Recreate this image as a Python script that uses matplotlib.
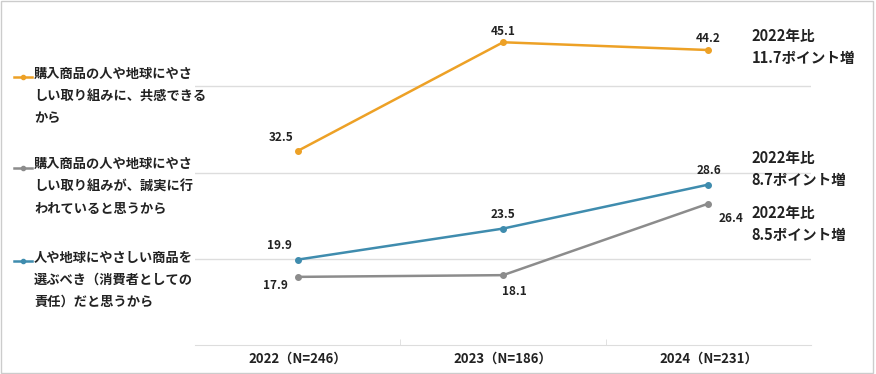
import matplotlib.pyplot as plt
from matplotlib.lines import Line2D
from matplotlib.patches import Rectangle

plt.rcParams['font.family'] = ['Noto Sans CJK JP', 'DejaVu Sans']

years = ['2022（N=246）', '2023（N=186）', '2024（N=231）']
empathy = [32.5, 45.1, 44.2]
sincere = [17.9, 18.1, 26.4]
should = [19.9, 23.5, 28.6]

labels = ['購入商品の人や地球にやさ\nしい取り組みに、共感できる\nから',
          '購入商品の人や地球にやさ\nしい取り組みが、誠実に行\nわれていると思うから',
          '人や地球にやさしい商品を\n選ぶべき（消費者としての\n責任）だと思うから']
notes = ['2022年比\n11.7ポイント増', '2022年比\n8.7ポイント増', '2022年比\n8.5ポイント増']

c_orange = '#EDA126'
c_gray = '#8C8C8C'
c_blue = '#3F8CAE'

fig = plt.figure(figsize=(8.76, 3.74), dpi=100)
ax = fig.add_axes([0.2226, 0.0775, 0.7034, 0.9225])

x = range(len(years))
series = [(empathy, c_orange), (sincere, c_gray), (should, c_blue)]
for vals, col in series:
    ax.plot(x, vals, color=col, lw=1.8, marker='o', ms=4)

# data labels: (dx points, dy points)
offs = [[(-12, 10), (0, 8), (0, 8)],
        [(-16, -6), (8, -12), (16, -11)],
        [(-13, 10), (0, 10), (0, 10)]]
for (vals, col), off in zip(series, offs):
    for i, v in enumerate(vals):
        ax.annotate(f'{v:.1f}', (i, v), xytext=off[i], textcoords='offset points',
                    ha='center', va='center', fontsize=8.5, fontweight='bold', color='#222222')

ax.set_xlim(-0.5, 2.5)
ax.set_ylim(10, 50)
ax.set_yticks([20, 30, 40])
ax.yaxis.grid(True, color='#DDDDDD', lw=1)
ax.tick_params(axis='y', left=False, labelleft=False)
ax.set_xticks(list(x))
ax.set_xticklabels(years, fontsize=9.5, fontweight='bold', color='#222222')
ax.set_xticks([0.5, 1.5], minor=True)
ax.tick_params(axis='x', which='major', length=0, pad=5)
ax.tick_params(axis='x', which='minor', length=4, color='#DDDDDD', direction='in')
for s in ['top', 'right', 'left']:
    ax.spines[s].set_visible(False)
ax.spines['bottom'].set_color('#DDDDDD')

# legend on the left
leg_y = [0.794, 0.551, 0.302]
for (vals, col), lab, yy in zip(series, labels, leg_y):
    fig.add_artist(Line2D([0.016, 0.0265, 0.037], [yy, yy, yy], color=col, lw=1.8,
                          marker='o', ms=3, markevery=[1], transform=fig.transFigure))
    fig.text(0.039, yy + 0.028, lab, fontsize=9.5, fontweight='bold', color='#222222',
             va='top', ha='left', linespacing=1.75)

# notes on the right
note_y = [0.925, 0.598, 0.452]
for n, yy in zip(notes, note_y):
    fig.text(0.858, yy, n, fontsize=10.5, fontweight='bold', color='#222222',
             va='top', ha='left', linespacing=1.45)

fig.add_artist(Rectangle((0.001, 0.002), 0.996, 0.995, fill=False, ec='#CCCCCC', lw=1,
                         transform=fig.transFigure))

fig.savefig('out.png', dpi=100)
